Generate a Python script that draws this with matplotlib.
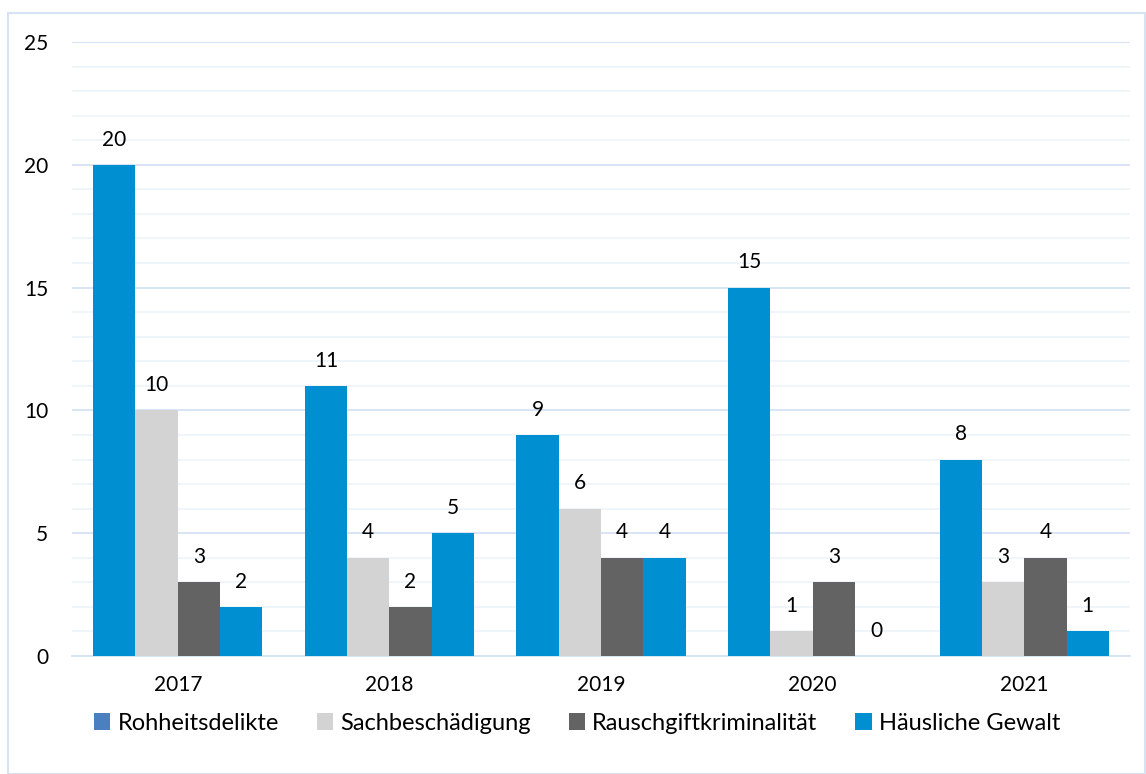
import numpy as np
import matplotlib.pyplot as plt
from matplotlib.patches import Patch, Rectangle

# Daten
jahre = ["2017", "2018", "2019", "2020", "2021"]
rohheitsdelikte = [20, 11, 9, 15, 8]
sachbeschaedigung = [10, 4, 6, 1, 3]
rauschgift = [3, 2, 4, 3, 4]
haeusliche_gewalt = [2, 5, 4, 0, 1]

serien = ["Rohheitsdelikte", "Sachbeschädigung", "Rauschgiftkriminalität", "Häusliche Gewalt"]
werte = [rohheitsdelikte, sachbeschaedigung, rauschgift, haeusliche_gewalt]
farben = ["#008fd0", "#d3d3d3", "#636363", "#008fd0"]
legenden_farben = ["#4a7fc0", "#d3d3d3", "#636363", "#008fd0"]

plt.rcParams['font.family'] = ['Lato', 'DejaVu Sans']

fig = plt.figure(figsize=(11.46, 7.74), dpi=100)
ax = fig.add_axes([72 / 1146, 1 - 656 / 774, (1130 - 72) / 1146, (656 - 42) / 774])

# Rahmen um das Diagramm
fig.patches.append(Rectangle((8 / 1146, 0), 1 - 8 / 1146 - 0.001, 1 - 13 / 774,
                             transform=fig.transFigure, fill=False,
                             edgecolor="#d6e3f3", linewidth=1.5))

x = np.arange(len(jahre))
breite = 0.2
for i, (w, f) in enumerate(zip(werte, farben)):
    pos = x + (i - 1.5) * breite
    ax.bar(pos, w, width=breite, color=f, zorder=3)
    for px, v in zip(pos, w):
        ax.annotate(str(v), (px, v), xytext=(0, 11), textcoords="offset points",
                    ha="center", va="bottom", fontsize=15, color="#000000")

ax.set_xlim(-0.5, len(jahre) - 0.5)
ax.set_ylim(0, 25)
ax.set_yticks(np.arange(0, 26, 5))
ax.set_yticks(np.arange(0, 26, 1), minor=True)
ax.set_xticks(x)
ax.set_xticklabels(jahre)
ax.grid(axis="y", which="major", color="#d6e3f3", linewidth=1.3, zorder=0)
ax.grid(axis="y", which="minor", color="#eef3fa", linewidth=1.2, zorder=0)
ax.tick_params(axis="both", which="both", length=0, labelsize=15)
ax.tick_params(axis="y", pad=17)
ax.tick_params(axis="x", pad=14)
for s in ["top", "right", "left"]:
    ax.spines[s].set_visible(False)
ax.spines["bottom"].set_color("#d6e3f3")
ax.spines["bottom"].set_linewidth(1.3)

handles = [Patch(facecolor=c, edgecolor="none") for c in legenden_farben]
fig.legend(handles, serien, loc="center", bbox_to_anchor=(577 / 1146, 1 - 723 / 774),
           ncol=4, frameon=False, fontsize=17, handlelength=0.7, handleheight=0.7,
           handletextpad=0.3, columnspacing=1.6)

fig.savefig("out.png", dpi=100)
